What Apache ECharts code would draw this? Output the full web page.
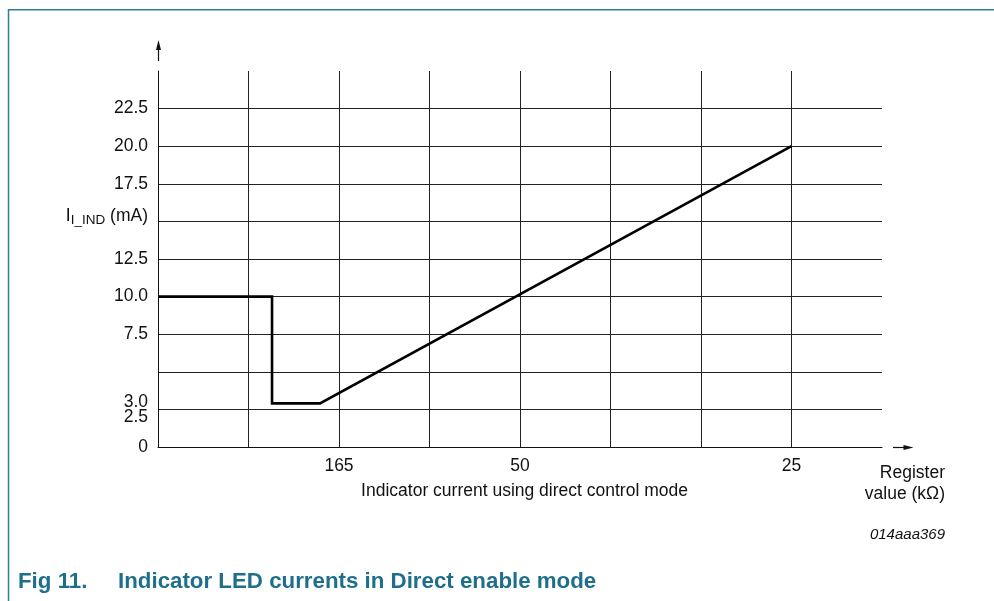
<!DOCTYPE html>
<html>
<head>
<meta charset="utf-8">
<script src="https://cdn.jsdelivr.net/npm/echarts@6/dist/echarts.min.js"></script>
<style>
html,body{margin:0;padding:0;background:#fff;}
#chart{width:994px;height:601px;}
</style>
</head>
<body>
<div id="chart"></div>
<script>
// ---- data ----
var lineX = [0, 1.26, 1.26, 1.79, 7];
var lineY = [10.0, 10.0, 2.9, 2.9, 20.0];
var xTickLabels = ['', '', '165', '', '50', '', '', '25', ''];
var yTickLabels = {0: '0', 2.5: '2.5', 5: '', 7.5: '7.5', 10: '10.0', 12.5: '12.5', 15: 'NAME', 17.5: '17.5', 20: '20.0', 22.5: '22.5', 25: ''};
var yExtraLabels = {3: '3.0'};
var yName = ['I', 'I_IND', ' (mA)'];
var xName = 'Indicator current using direct control mode';
var xUnit = 'Register\nvalue (kΩ)';
var figId = '014aaa369';
var figNum = 'Fig 11.';
var figTitle = 'Indicator LED currents in Direct enable mode';

var FONT = '"Liberation Sans", Arial, Helvetica, sans-serif';
var TEAL = '#1f6f8b';
var LINE = '#222';
var FS = 17.5;

var chart = echarts.init(document.getElementById('chart'), null, {renderer: 'canvas'});

var pts = lineX.map(function (x, i) { return [x, lineY[i]]; });

function yKey(v) { return Math.round(v * 10) / 10; }

var option = {
  animation: false,
  backgroundColor: '#fff',
  textStyle: {fontFamily: FONT},
  grid: {left: 158, right: 112, top: 71, bottom: 154, containLabel: false},
  xAxis: {
    type: 'value', min: 0, max: 8, interval: 1,
    axisLine: {show: true, lineStyle: {color: '#111', width: 1}},
    axisTick: {show: false},
    splitLine: {show: true, showMinLine: false, showMaxLine: false, lineStyle: {color: LINE, width: 1}},
    axisLabel: {
      margin: 10, fontSize: FS, color: '#111', fontFamily: FONT,
      formatter: function (v) { return xTickLabels[Math.round(v)] || ''; }
    },
    name: xName, nameLocation: 'middle', nameGap: 35,
    nameTextStyle: {fontSize: FS, color: '#111', fontFamily: FONT, padding: [0, 0, 0, 9]}
  },
  yAxis: [{
    type: 'value', min: 0, max: 25, interval: 2.5,
    axisLine: {show: true, lineStyle: {color: '#111', width: 1}},
    axisTick: {show: false},
    splitLine: {show: true, showMinLine: false, showMaxLine: false, lineStyle: {color: LINE, width: 1}},
    axisLabel: {
      margin: 10, fontSize: FS, color: '#111', fontFamily: FONT,
      formatter: function (v) {
        var t = yTickLabels[yKey(v)];
        if (t === undefined) return '';
        if (t === 'NAME') return '{m|' + yName[0] + '}{s|' + yName[1] + '}{m|' + yName[2] + '}';
        if (yKey(v) === 2.5) return '{low|' + t + '}';
        return t;
      },
      rich: {
        m: {fontSize: FS, lineHeight: 20, padding: [0, 0, 10, 0], color: '#111', fontFamily: FONT},
        s: {fontSize: 13.5, lineHeight: 14, padding: [0, 0, 2, 0], color: '#111', fontFamily: FONT},
        low: {fontSize: FS, lineHeight: 20, padding: [16, 0, 0, 0], color: '#111', fontFamily: FONT}
      }
    }
  }, {
    type: 'value', min: 0, max: 25, interval: 1, position: 'left', offset: 0,
    axisLine: {show: false}, axisTick: {show: false}, splitLine: {show: false},
    axisLabel: {
      margin: 10, fontSize: FS, color: '#111', fontFamily: FONT,
      formatter: function (v) { return yExtraLabels[yKey(v)] || ''; }
    }
  }],
  series: [{
    type: 'line', data: pts, showSymbol: false, symbol: 'none',
    xAxisIndex: 0, yAxisIndex: 0,
    lineStyle: {color: '#000', width: 2.6, join: 'miter'},
    z: 5
  }],
  graphic: [
    // frame
    {type: 'polyline', silent: true, shape: {points: [[8.5, 601], [8.5, 9.75], [994, 9.75]]},
     style: {stroke: '#2f7f98', lineWidth: 1.5, fill: null}},
    // y arrow
    {type: 'line', silent: true, shape: {x1: 158.5, y1: 61, x2: 158.5, y2: 48}, style: {stroke: '#111', lineWidth: 1.2}},
    {type: 'polygon', silent: true, shape: {points: [[158.5, 40], [156, 50], [161, 50]]}, style: {fill: '#111'}},
    // x arrow
    {type: 'line', silent: true, shape: {x1: 893, y1: 447.5, x2: 905, y2: 447.5}, style: {stroke: '#111', lineWidth: 1.2}},
    {type: 'polygon', silent: true, shape: {points: [[913.5, 447.5], [903.5, 445], [903.5, 450]]}, style: {fill: '#111'}},
    // x unit
    {type: 'text', silent: true, x: 945, y: 463,
     style: {text: xUnit, align: 'right', verticalAlign: 'top', lineHeight: 21, fill: '#111', font: FS + 'px ' + FONT}},
    // figure id
    {type: 'text', silent: true, x: 945, y: 535,
     style: {text: figId, align: 'right', verticalAlign: 'middle', fill: '#111', font: 'italic 15px ' + FONT}},
    // caption
    {type: 'text', silent: true, x: 18, y: 582,
     style: {text: figNum, align: 'left', verticalAlign: 'middle', fill: TEAL, font: 'bold 22.3px ' + FONT}},
    {type: 'text', silent: true, x: 118, y: 582,
     style: {text: figTitle, align: 'left', verticalAlign: 'middle', fill: TEAL, font: 'bold 22.3px ' + FONT}}
  ]
};
chart.setOption(option);
</script>
</body>
</html>
